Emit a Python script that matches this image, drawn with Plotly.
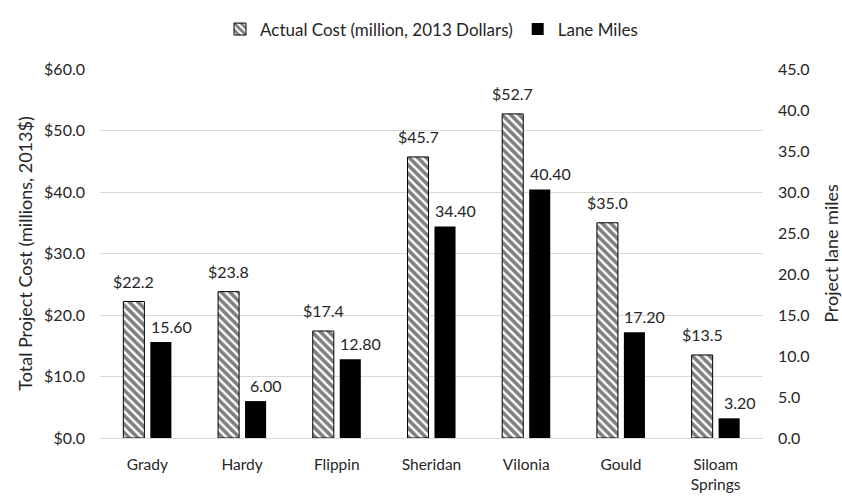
import plotly.graph_objects as go

# Project data
projects = ["Grady", "Hardy", "Flippin", "Sheridan", "Vilonia", "Gould", "Siloam<br>Springs"]
actual_cost = [22.2, 23.8, 17.4, 45.7, 52.7, 35.0, 13.5]   # million, 2013 dollars
lane_miles = [15.60, 6.00, 12.80, 34.40, 40.40, 17.20, 3.20]

cost_ticks = [0, 10, 20, 30, 40, 50, 60]
miles_ticks = [0, 5, 10, 15, 20, 25, 30, 35, 40, 45]

FONT = "Lato"
TEXT = "#262626"
GRID = "#d9d9d9"

fig = go.Figure()

fig.add_trace(go.Bar(
    name="Actual Cost (million, 2013 Dollars)",
    x=projects,
    y=actual_cost,
    marker=dict(
        color="white",
        line=dict(color="black", width=1),
        pattern=dict(shape="\\", fgcolor="black", bgcolor="white", size=6, solidity=0.6),
    ),
))

fig.add_trace(go.Bar(
    name="Lane Miles",
    x=projects,
    y=lane_miles,
    marker=dict(color="black", line=dict(color="black", width=0)),
))

# Carrier trace so the right-hand axis is drawn
fig.add_trace(go.Scatter(
    x=projects, y=[None] * len(projects), yaxis="y2",
    mode="markers", showlegend=False, hoverinfo="skip",
))

# Value labels above each bar (bars sit 13.5 px either side of the category centre)
for name, cost, miles in zip(projects, actual_cost, lane_miles):
    fig.add_annotation(x=name, y=cost, text=f"${cost:.1f}", showarrow=False,
                       xshift=-13.5, yshift=20, yanchor="middle",
                       font=dict(family=FONT, size=16, color=TEXT))
    fig.add_annotation(x=name, y=miles, text=f"{miles:.2f}", showarrow=False,
                       xshift=24, yshift=16, yanchor="middle",
                       font=dict(family=FONT, size=16, color=TEXT))

fig.update_layout(
    width=842, height=496,
    margin=dict(l=100, r=79, t=63, b=58),
    paper_bgcolor="white", plot_bgcolor="white",
    font=dict(family=FONT, size=16, color=TEXT),
    barmode="group",
    bargap=0.43,
    bargroupgap=0.22,
    legend=dict(
        orientation="h", x=0.5, xanchor="center", y=1.107, yanchor="middle",
        font=dict(family=FONT, size=17, color=TEXT),
        itemwidth=30, traceorder="normal",
    ),
    xaxis=dict(
        showgrid=False, showline=False, ticks="", ticklabelstandoff=15,
        automargin=False,
        tickfont=dict(family=FONT, size=15.5, color=TEXT),
    ),
    yaxis=dict(
        range=[0, 60], tickvals=cost_ticks,
        ticktext=[f"${v:.1f}" for v in cost_ticks],
        showgrid=True, gridcolor=GRID, gridwidth=1,
        zeroline=True, zerolinecolor=GRID, zerolinewidth=1,
        showline=False, ticks="", ticklabelstandoff=14, automargin=False,
        tickfont=dict(family=FONT, size=16, color=TEXT),
        title=dict(text="Total Project Cost (millions, 2013$)",
                   font=dict(family=FONT, size=18, color=TEXT), standoff=6),
    ),
    yaxis2=dict(
        overlaying="y", side="right",
        range=[0, 45], tickvals=miles_ticks,
        ticktext=[f"{v:.1f}" for v in miles_ticks],
        showgrid=False, zeroline=False, showline=False, ticks="",
        ticklabelstandoff=14, automargin=False,
        tickfont=dict(family=FONT, size=16, color=TEXT),
        title=dict(text="Project lane miles",
                   font=dict(family=FONT, size=18, color=TEXT), standoff=20),
    ),
)

fig.write_html("out.html")
